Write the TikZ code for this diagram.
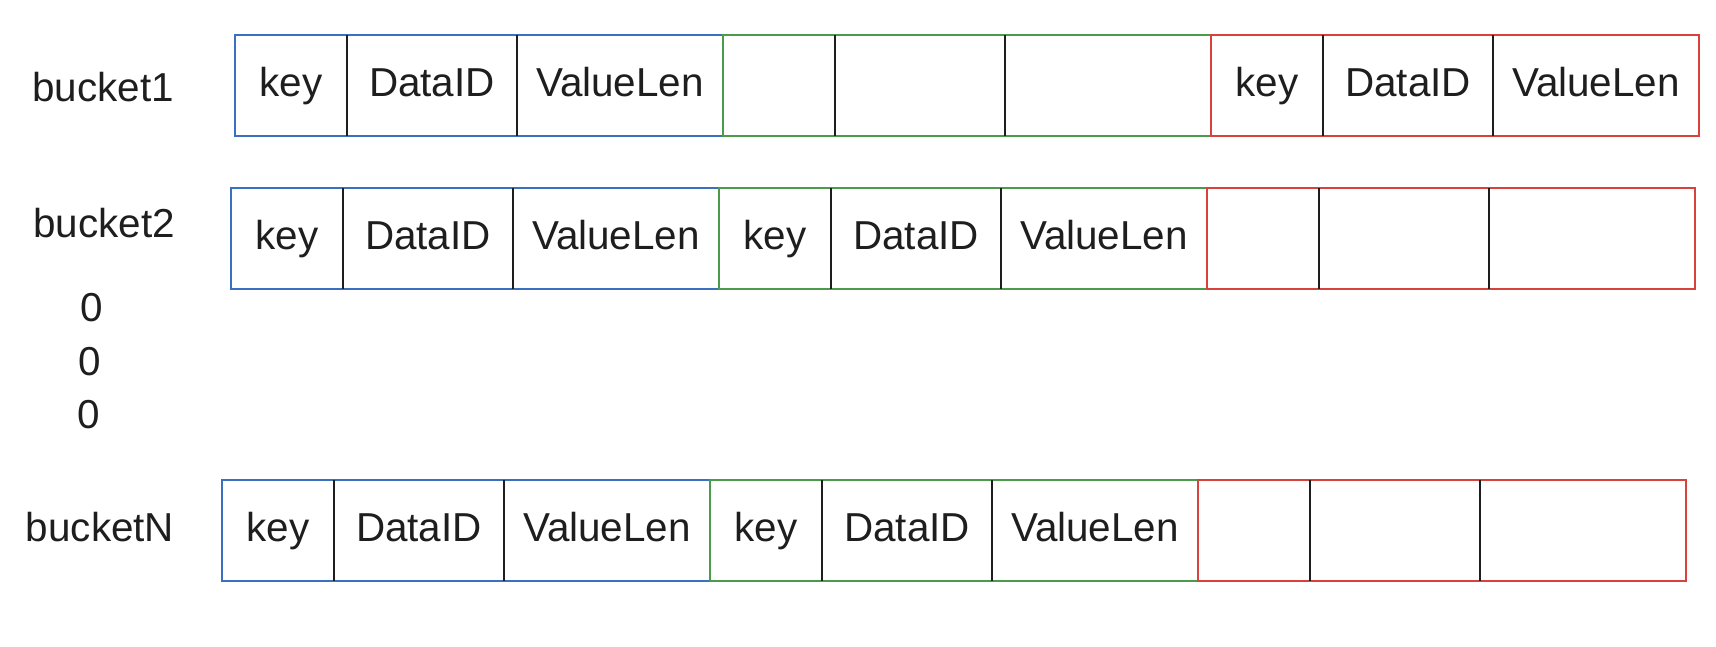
\documentclass[tikz,border=0pt]{standalone}
\usepackage{fontspec}
\setmainfont{Liberation Sans}
\usepackage{tikz}
\usetikzlibrary{positioning}
\definecolor{boxblue}{HTML}{3A70C2}
\definecolor{boxgreen}{HTML}{4A9C4A}
\definecolor{boxred}{HTML}{D9413C}
\definecolor{ink}{HTML}{1E1E1E}

\begin{document}
\begin{tikzpicture}[cell/.style={rectangle, inner sep=0pt, outer sep=0pt, minimum height=2.02cm, text height=0.6cm, text depth=0.15cm},
        keycell/.style={cell, minimum width=2.24cm},
        idcell/.style={cell, minimum width=3.4cm},
        lencell/.style={cell, minimum width=4.12cm},
        slotbox/.style={line width=1.4pt},
        divider/.style={line width=0.8pt, ink},
        every node/.style={text=ink, font=\fontsize{23}{27}\selectfont}]
        \useasboundingbox (0,0) rectangle (34.32,12.92);
        % bucket1
        \node[keycell, anchor=south west] (r1a_k) at (4.7,10.2) {key};
        \node[idcell] (r1a_d) [right = 0pt of r1a_k] {DataID};
        \node[lencell] (r1a_v) [right = 0pt of r1a_d] {ValueLen};
        \node[keycell] (r1b_k) [right = 0pt of r1a_v] {};
        \node[idcell] (r1b_d) [right = 0pt of r1b_k] {};
        \node[lencell] (r1b_v) [right = 0pt of r1b_d] {};
        \node[keycell] (r1c_k) [right = 0pt of r1b_v] {key};
        \node[idcell] (r1c_d) [right = 0pt of r1c_k] {DataID};
        \node[lencell] (r1c_v) [right = 0pt of r1c_d] {ValueLen};
        
        % bucket2
        \node[keycell, anchor=south west] (r2a_k) at (4.62,7.14) {key};
        \node[idcell] (r2a_d) [right = 0pt of r2a_k] {DataID};
        \node[lencell] (r2a_v) [right = 0pt of r2a_d] {ValueLen};
        \node[keycell] (r2b_k) [right = 0pt of r2a_v] {key};
        \node[idcell] (r2b_d) [right = 0pt of r2b_k] {DataID};
        \node[lencell] (r2b_v) [right = 0pt of r2b_d] {ValueLen};
        \node[keycell] (r2c_k) [right = 0pt of r2b_v] {};
        \node[idcell] (r2c_d) [right = 0pt of r2c_k] {};
        \node[lencell] (r2c_v) [right = 0pt of r2c_d] {};
        
        % bucketN
        \node[keycell, anchor=south west] (r3a_k) at (4.44,1.3) {key};
        \node[idcell] (r3a_d) [right = 0pt of r3a_k] {DataID};
        \node[lencell] (r3a_v) [right = 0pt of r3a_d] {ValueLen};
        \node[keycell] (r3b_k) [right = 0pt of r3a_v] {key};
        \node[idcell] (r3b_d) [right = 0pt of r3b_k] {DataID};
        \node[lencell] (r3b_v) [right = 0pt of r3b_d] {ValueLen};
        \node[keycell] (r3c_k) [right = 0pt of r3b_v] {};
        \node[idcell] (r3c_d) [right = 0pt of r3c_k] {};
        \node[lencell] (r3c_v) [right = 0pt of r3c_d] {};
        
        \node (b1) at (2.06,11.18) {bucket1};
        \node (b2) at (2.08,8.46) {bucket2};
        \node (z1) at (1.83,6.76) {0};
        \node (z2) at (1.80,5.68) {0};
        \node (z3) at (1.78,4.62) {0};
        \node (bn) at (2.0,2.38) {bucketN};
        
        \foreach \r in {r1,r2,r3} {
            \draw[slotbox, boxblue] (\r a_k.north west) rectangle (\r a_v.south east);
            \draw[slotbox, boxgreen] (\r b_k.north west) rectangle (\r b_v.south east);
            \draw[slotbox, boxred] (\r c_k.north west) rectangle (\r c_v.south east);
            \foreach \s in {a,b,c} {
                \draw[divider] (\r\s_k.north east) -- (\r\s_k.south east);
                \draw[divider] (\r\s_d.north east) -- (\r\s_d.south east);
            }
        }
    \end{tikzpicture}
\end{document}
